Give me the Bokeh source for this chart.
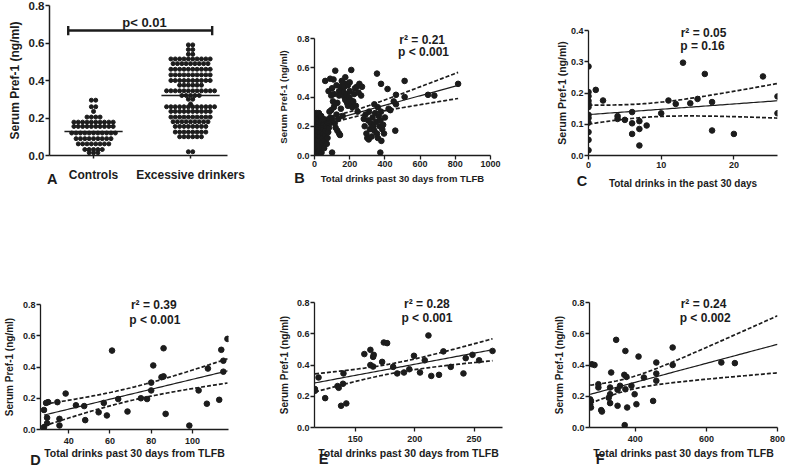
import numpy as np
from bokeh.plotting import figure
from bokeh.layouts import column, row
from bokeh.models import Label, FixedTicker, Range1d, NumeralTickFormatter
from bokeh.embed import file_html
from bokeh.resources import INLINE

FONT = "Liberation Sans"
INK = "#1c1c1c"

# ---------------- data ----------------
# Panel A: serum Pref-1 by group
group_labels = ["Controls", "Excessive drinkers"]
group_pos = [1, 2]
controls = [0.295, 0.295,
            0.26, 0.26,
            0.235,
            0.205, 0.205, 0.205, 0.205,
            0.178, 0.178, 0.178, 0.178, 0.178, 0.178, 0.178, 0.178, 0.178, 0.178,
            0.155, 0.155, 0.155, 0.155, 0.155, 0.155, 0.155, 0.155, 0.155, 0.155,
            0.12, 0.12, 0.12, 0.12, 0.12, 0.12, 0.12, 0.12, 0.12, 0.12, 0.12,
            0.09, 0.09, 0.09, 0.09, 0.09, 0.09, 0.09, 0.09, 0.09,
            0.062, 0.062, 0.062, 0.062, 0.062, 0.062, 0.062, 0.062,
            0.032, 0.032, 0.032, 0.032, 0.032,
            0.015, 0.015, 0.015]
excessive = [0.59, 0.59,
             0.565, 0.565,
             0.54, 0.54,
             0.515, 0.515, 0.515, 0.515, 0.515, 0.515, 0.515, 0.515, 0.515, 0.515,
             0.49, 0.49, 0.49, 0.49, 0.49, 0.49, 0.49, 0.49, 0.49,
             0.46, 0.46, 0.46, 0.46, 0.46, 0.46, 0.46, 0.46, 0.46, 0.46,
             0.43, 0.43, 0.43, 0.43, 0.43, 0.43, 0.43, 0.43, 0.43, 0.43,
             0.40, 0.40, 0.40, 0.40, 0.40, 0.40, 0.40, 0.40, 0.40, 0.40,
             0.375, 0.375, 0.375, 0.375, 0.375, 0.375,
             0.345, 0.345, 0.345, 0.345, 0.345, 0.345, 0.345, 0.345, 0.345, 0.345, 0.345, 0.345,
             0.32, 0.32, 0.32, 0.32, 0.32,
             0.30, 0.30,
             0.275,
             0.26, 0.26, 0.26, 0.26, 0.26, 0.26, 0.26, 0.26, 0.26, 0.26, 0.26, 0.26,
             0.235, 0.235, 0.235, 0.235, 0.235, 0.235, 0.235, 0.235, 0.235, 0.235,
             0.205, 0.205, 0.205, 0.205, 0.205, 0.205, 0.205, 0.205, 0.205, 0.205,
             0.18, 0.18, 0.18, 0.18, 0.18, 0.18, 0.18, 0.18, 0.18,
             0.155, 0.155, 0.155, 0.155, 0.155, 0.155, 0.155, 0.155,
             0.125, 0.125, 0.125, 0.125, 0.125, 0.125, 0.125, 0.125,
             0.10, 0.10, 0.10, 0.10, 0.10, 0.10,
             0.02, 0.02]
a_pvalue = "p< 0.01"

# Panel B: all subjects, total drinks (TLFB) vs Pref-1
b_x = [0, 0, 0, 0, 0, 0, 0, 0, 0,
       4, 5, 6, 6, 7, 8, 9, 10, 10,
       14, 15, 16, 17, 18, 19, 20, 22, 23,
       26, 28, 30, 31, 33, 34, 36,
       40, 42, 44, 46, 47, 49, 51,
       55, 58, 60, 62, 64, 66, 70, 74, 78, 82, 86, 90,
       12, 3, 25, 38, 52,
       118, 209, 61, 89, 108, 155, 184, 175,
       80, 95, 100, 105, 110, 95, 85, 100, 115, 120, 130, 140, 145, 125, 135,
       150, 160, 165, 170, 175, 180, 185, 190, 195, 200, 205, 210, 215, 220, 225, 230, 240, 250, 255,
       235, 245, 265, 270, 160, 170, 190, 200, 125, 140, 130, 150, 160, 140, 110, 115, 100,
       280, 285, 290, 295, 300, 305, 308, 310, 315, 320, 325, 330, 335, 340, 345, 350, 355, 360,
       365, 370, 375, 380, 385, 390, 395, 400, 360, 378, 340,
       355, 378, 415, 512, 512, 645, 681, 816, 463, 463, 421, 431, 459, 374, 450]
b_y = [0.01, 0.04, 0.07, 0.10, 0.13, 0.16, 0.19, 0.21, 0.28,
       0.02, 0.06, 0.09, 0.12, 0.15, 0.18, 0.20, 0.24, 0.29,
       0.01, 0.05, 0.08, 0.11, 0.14, 0.17, 0.20, 0.23, 0.26,
       0.03, 0.07, 0.10, 0.13, 0.16, 0.19, 0.22,
       0.02, 0.06, 0.09, 0.12, 0.15, 0.18, 0.21,
       0.05, 0.10, 0.14, 0.17, 0.20, 0.24, 0.08, 0.12, 0.16, 0.19, 0.22, 0.26,
       0.27, 0.25, 0.29, 0.27, 0.25,
       0.58, 0.585, 0.51, 0.525, 0.52, 0.51, 0.49, 0.535,
       0.44, 0.41, 0.46, 0.37, 0.33, 0.31, 0.30, 0.25, 0.22, 0.19, 0.17, 0.15, 0.14, 0.28, 0.25,
       0.47, 0.45, 0.43, 0.40, 0.38, 0.42, 0.36, 0.34, 0.40, 0.44, 0.38, 0.35, 0.33, 0.37, 0.42, 0.46, 0.47, 0.43, 0.49,
       0.34, 0.30, 0.41, 0.47, 0.50, 0.47, 0.48, 0.50, 0.48, 0.44, 0.36, 0.32, 0.27, 0.41, 0.42, 0.35, 0.02,
       0.25, 0.20, 0.28, 0.15, 0.12, 0.24, 0.11, 0.30, 0.18, 0.22, 0.13, 0.26, 0.20, 0.17, 0.29, 0.23, 0.15, 0.12,
       0.27, 0.20, 0.24, 0.10, 0.18, 0.21, 0.15, 0.26, 0.33, 0.30, 0.35,
       0.56, 0.49, 0.455, 0.51, 0.40, 0.415, 0.41, 0.49, 0.35, 0.415, 0.32, 0.31, 0.17, 0.02, 0.37]

# Panel C: controls, drinks in past 30 days
c_x = [0, 0, 0, 0, 0, 0, 0, 0, 0, 0, 0, 0,
       1, 2, 4, 4, 5, 6, 6, 6, 7, 7, 7, 8, 10, 11, 12, 13, 14, 15, 16, 17, 17, 20, 24, 26, 26]
c_y = [0.285, 0.203, 0.19, 0.175, 0.165, 0.155, 0.13, 0.12, 0.105, 0.075, 0.05, 0.017,
       0.21, 0.176, 0.126, 0.117, 0.114, 0.139, 0.103, 0.069, 0.11, 0.085, 0.032, 0.096,
       0.135, 0.176, 0.165, 0.297, 0.167, 0.181, 0.261, 0.08, 0.171, 0.069, 0.253, 0.189, 0.135]

# Panel D
d_x = [117, 114, 86, 61, 81, 115, 115, 107.5, 85, 86, 80, 80, 78, 75, 64, 57, 47.5, 43.5, 38.5,
       34.5, 30, 28, 29.5, 29.5, 28, 35.5, 35.5, 48, 54.5, 58.5, 68.5, 87, 98.5, 103, 107, 113, 29]
d_y = [0.58, 0.51, 0.52, 0.505, 0.41, 0.44, 0.37, 0.39, 0.335, 0.34, 0.30, 0.25, 0.195, 0.20,
       0.195, 0.17, 0.15, 0.155, 0.23, 0.175, 0.175, 0.125, 0.075, 0.04, 0.015, 0.068, 0.026,
       0.06, 0.11, 0.09, 0.115, 0.10, 0.025, 0.25, 0.165, 0.19, 0.17]

# Panel E
e_x = [116, 116, 119, 124.6, 135, 136, 139.6, 140, 138, 142.4, 157.6, 162.7, 165, 165.5, 162.7,
       165, 174, 176.8, 172.6, 181.9, 185.3, 191, 195.5, 199.4, 204.5, 208.5, 211.6, 214, 220.5,
       224.2, 230.4, 241.1, 243, 248.7, 254.3, 265.6]
e_y = [0.246, 0.235, 0.32, 0.188, 0.265, 0.254, 0.28, 0.346, 0.139, 0.154, 0.47, 0.497, 0.452,
       0.465, 0.40, 0.39, 0.544, 0.54, 0.42, 0.388, 0.346, 0.352, 0.373, 0.459, 0.352, 0.43,
       0.589, 0.33, 0.337, 0.487, 0.388, 0.346, 0.444, 0.465, 0.43, 0.49]

# Panel F
f_x = [277.6, 285, 346, 372, 369, 375, 332, 409, 424, 459, 459, 459, 505, 505, 642, 680, 450,
       398, 403, 377, 350, 329, 329, 325, 304, 306, 273, 275, 273, 275, 296, 296, 329, 350, 372,
       389, 370, 357]
f_y = [0.405, 0.40, 0.561, 0.49, 0.337, 0.324, 0.352, 0.454, 0.32, 0.299, 0.345, 0.416, 0.512,
       0.40, 0.416, 0.412, 0.17, 0.213, 0.149, 0.128, 0.139, 0.156, 0.213, 0.19, 0.111, 0.102,
       0.18, 0.17, 0.149, 0.128, 0.256, 0.277, 0.256, 0.241, 0.245, 0.267, 0.015, 0.267]

stat_texts = {
    "B": ("r² = 0.21", "p < 0.001"),
    "C": ("r² = 0.05", "p = 0.16"),
    "D": ("r² = 0.39", "p < 0.001"),
    "E": ("r² = 0.28", "p < 0.001"),
    "F": ("r² = 0.24", "p < 0.002"),
}
y_title = "Serum Pref-1 (ng/ml)"
x_titles = {
    "B": "Total drinks past 30 days from TLFB",
    "C": "Total drinks in the past 30 days",
    "D": "Total drinks past 30 days from TLFB",
    "E": "Total drinks past 30 days from TLFB",
    "F": "Total drinks past 30 days from TLFB",
}


# ---------------- helpers ----------------
def t975(df):
    z = 1.959964
    return z + (z ** 3 + z) / (4 * df) + (5 * z ** 5 + 16 * z ** 3 + 3 * z) / (96 * df ** 2)


def fit_band(x, y, x0, x1):
    x = np.asarray(x, float)
    y = np.asarray(y, float)
    b, a = np.polyfit(x, y, 1)
    xs = np.linspace(x0, x1, 80)
    yh = a + b * xs
    n = len(x)
    s = np.sqrt(np.sum((y - (a + b * x)) ** 2) / (n - 2))
    sxx = np.sum((x - x.mean()) ** 2)
    se = s * np.sqrt(1.0 / n + (xs - x.mean()) ** 2 / sxx)
    t = t975(n - 2)
    return xs, yh, yh - t * se, yh + t * se


def swarm(values, center, dx):
    vals = np.asarray(values, float)
    xs = np.empty_like(vals)
    for v in np.unique(vals):
        idx = np.where(vals == v)[0]
        k = len(idx)
        xs[idx] = center + (np.arange(k) - (k - 1) / 2.0) * dx
    return xs


def base_fig(w, h, xr, yr, left, right, top, bottom):
    p = figure(width=w, height=h, x_range=Range1d(*xr), y_range=Range1d(*yr),
               output_backend="svg", toolbar_location=None, frame_align=False,
               min_border_left=left, min_border_right=right,
               min_border_top=top, min_border_bottom=bottom)
    p.outline_line_color = None
    p.xgrid.visible = False
    p.ygrid.visible = False
    p.background_fill_color = "white"
    p.border_fill_color = "white"
    for ax in (p.xaxis[0], p.yaxis[0]):
        ax.axis_line_color = INK
        ax.axis_line_width = 1.5
        ax.major_tick_line_color = INK
        ax.major_tick_line_width = 1.5
        ax.major_tick_in = 0
        ax.major_tick_out = 4
        ax.minor_tick_in = 0
        ax.minor_tick_out = 0
        ax.major_label_text_font = FONT
        ax.major_label_text_font_style = "bold"
        ax.major_label_text_color = INK
        ax.axis_label_text_font = FONT
        ax.axis_label_text_font_style = "bold"
        ax.axis_label_text_color = INK
    return p


def make_text(txt, x, y, size, units="screen"):
    return Label(x=x, y=y, x_units=units, y_units=units, text=txt,
                 text_font=FONT, text_font_style="bold", text_font_size=size,
                 text_color=INK, text_align="center", text_baseline="middle")


# ---------------- panel A ----------------
A_W, A_H, A_BORDERS = 270, 240, (49, 43, 5, 85)
A_FRAME_W = A_W - A_BORDERS[0] - A_BORDERS[1]
pA = base_fig(A_W, A_H, (0.546, 2.381), (0, 0.8), *A_BORDERS)
pA.yaxis[0].ticker = FixedTicker(ticks=[0.0, 0.2, 0.4, 0.6, 0.8])
pA.yaxis[0].formatter = NumeralTickFormatter(format="0.0")
pA.yaxis[0].major_label_text_font_size = "11.5px"
pA.yaxis[0].major_label_standoff = 1
pA.yaxis[0].axis_label = y_title
pA.yaxis[0].axis_label_text_font_size = "12px"
pA.yaxis[0].axis_label_standoff = 4
pA.xaxis[0].ticker = FixedTicker(ticks=group_pos)
pA.xaxis[0].major_label_overrides = dict(zip(group_pos, group_labels))
pA.xaxis[0].major_label_text_font_size = "12px"
pA.xaxis[0].major_label_standoff = 9
pA.xaxis[0].major_tick_out = 3

dot_dx = 0.045
for vals, pos in ((controls, group_pos[0]), (excessive, group_pos[1])):
    xs = swarm(vals, pos, dot_dx)
    pA.scatter(xs, vals, size=4.0, color=INK)
    m = float(np.mean(vals))
    pA.line([pos - 0.3, pos + 0.3], [m, m], line_color=INK, line_width=1.6)

bar_y = 0.667
bar_x0, bar_x1 = group_pos[0] - 0.261, group_pos[1] + 0.223
pA.line([bar_x0, bar_x1], [bar_y, bar_y], line_color=INK, line_width=2.4)
pA.segment([bar_x0, bar_x1], [bar_y - 0.026, bar_y - 0.026],
           [bar_x0, bar_x1], [bar_y + 0.024, bar_y + 0.024], line_color=INK, line_width=2.4)
pA.add_layout(make_text(a_pvalue, (group_pos[0] + group_pos[1]) / 2.0 + 0.025, 0.712, "13px", units="data"))
# panel letter lives in the right side panel (not clipped); x relative to frame right
pA.add_layout(make_text("A", 2.7 - A_FRAME_W, -23.3, "14.5px"), "right")


# ---------------- panels B-F ----------------
def reg_panel(key, x, y, w, h, borders, xr, yr, xticks, yticks, fit_end,
              r2_pos, p_pos, letter_pos, xlab_fs, ylab_fs, x_lstand, x_tstand, y_tstand):
    left, right, top, bottom = borders
    fw, fh = w - left - right, h - top - bottom
    p = base_fig(w, h, xr, yr, left, right, top, bottom)
    p.xaxis[0].ticker = FixedTicker(ticks=xticks)
    p.yaxis[0].ticker = FixedTicker(ticks=yticks)
    p.yaxis[0].formatter = NumeralTickFormatter(format="0.0")
    for ax in (p.xaxis[0], p.yaxis[0]):
        ax.major_label_text_font_size = "9px"
        ax.axis_line_width = 1.3
        ax.major_tick_line_width = 1.3
    p.yaxis[0].major_label_standoff = 1
    p.xaxis[0].major_label_standoff = int(x_lstand)
    p.yaxis[0].axis_label = y_title
    p.yaxis[0].axis_label_text_font_size = ylab_fs
    p.yaxis[0].axis_label_standoff = int(y_tstand)
    p.xaxis[0].axis_label = x_titles[key]
    p.xaxis[0].axis_label_text_font_size = xlab_fs
    p.xaxis[0].axis_label_standoff = int(x_tstand)

    p.scatter(x, y, size=5.6, color=INK)
    xs, yh, lo, hi = fit_band(x, y, min(x), fit_end)
    p.line(xs, yh, line_color=INK, line_width=1.2)
    p.line(xs, lo, line_color=INK, line_width=1.7, line_dash="4 2")
    p.line(xs, hi, line_color=INK, line_width=1.7, line_dash="4 2")

    r2, pv = stat_texts[key]
    # r² line straddles the frame's top edge: above panel, y measured up from frame top
    p.add_layout(make_text(r2, r2_pos[0], -r2_pos[1], "12px"), "above")
    # p line inside the frame, y measured up from frame bottom
    p.add_layout(make_text(pv, p_pos[0], p_pos[1], "12px"))
    p.add_layout(make_text(key, letter_pos[0] - fw, letter_pos[1], "14.5px"), "right")
    return p


pB = reg_panel("B", b_x, b_y, 260, 240, (44, 40, 38, 85), (0, 1000), (0, 0.8),
               [0, 200, 400, 600, 800, 1000], [0.0, 0.2, 0.4, 0.6, 0.8], max(b_x),
               (107.7, 1.3), (109, 103.3), (-15, -22.7), "9.5px", "9.5px", 1, 3, 5)
pC = reg_panel("C", c_x, c_y, 269, 240, (58, 22, 30, 85), (0, 26), (0, 0.4),
               [0, 10, 20], [0.0, 0.1, 0.2, 0.3, 0.4], max(c_x),
               (115, 2.3), (114, 110), (-6.6, -25), "10px", "10.5px", 2, 7, 0)
pD = reg_panel("D", d_x, d_y, 270, 230, (40, 42, 64, 41), (26.3, 117.5), (0, 0.8),
               [40, 60, 80, 100], [0.0, 0.2, 0.4, 0.6, 0.8], max(d_x),
               (113.3, 0.7), (114.3, 109.3), (-5, -30), "10.5px", "10px", 4, 0, 5)
pE = reg_panel("E", e_x, e_y, 260, 230, (44, 28, 62, 43), (115.6, 274), (0, 0.8),
               [150, 200, 250], [0.0, 0.2, 0.4, 0.6, 0.8], max(e_x),
               (112.4, 1.6), (112.4, 109.4), (9, -31.6), "10.5px", "10px", 4, 2, 4)
pF = reg_panel("F", f_x, f_y, 269, 230, (59, 22, 62, 43), (271, 800), (0, 0.8),
               [400, 600, 800], [0.0, 0.2, 0.4, 0.6, 0.8], 800,
               (114, 1.6), (115.7, 109.4), (10.7, -31.6), "10.5px", "10px", 4, 2, 4)

layout = column(row(pA, pB, pC), row(pD, pE, pF))
open("out.html", "w").write(file_html(layout, INLINE, "Serum Pref-1"))
